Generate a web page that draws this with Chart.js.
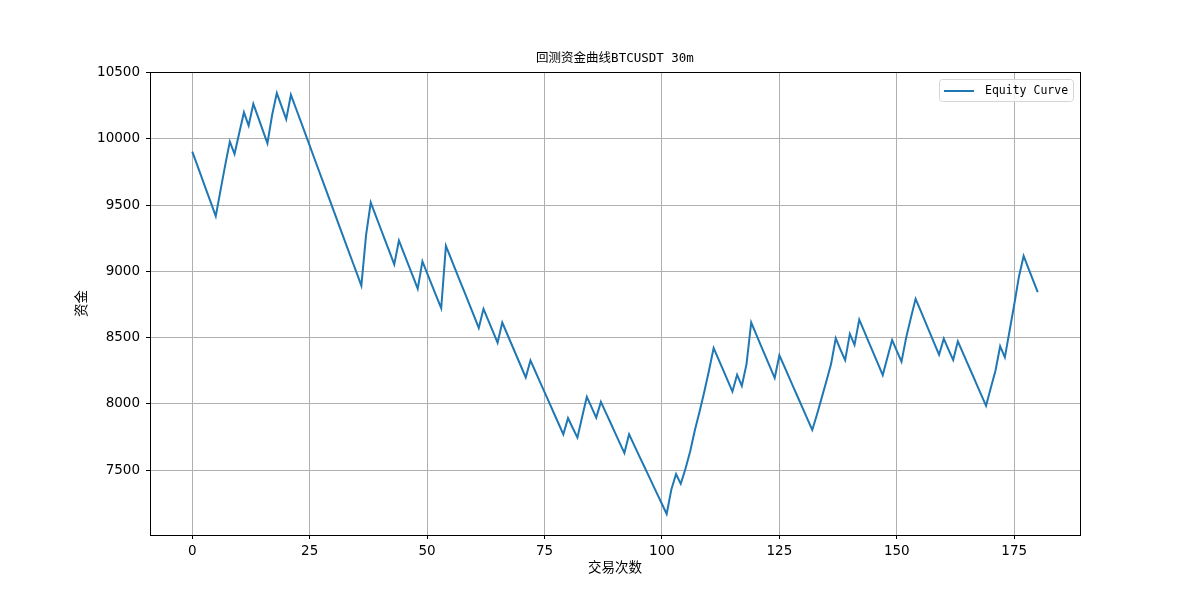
<!DOCTYPE html>
<html>
<head>
<meta charset="utf-8">
<script src="https://cdn.jsdelivr.net/npm/chart.js@4"></script>
<style>
  html, body { margin: 0; padding: 0; background: #fff; }
  #wrap { width: 1200px; height: 600px; }
</style>
</head>
<body>
<div id="wrap"><canvas id="c" width="1200" height="600"></canvas></div>
<script>
// 资金曲线 (equity after each trade)
const equity = [
  9904, 9808, 9710, 9612, 9515, 9417, 9610, 9800, 9980, 9886,
  10045, 10200, 10101, 10265, 10166, 10066, 9967, 10180, 10346, 10248,
  10149, 10333, 10237, 10141, 10045, 9949, 9852, 9756, 9660, 9564,
  9468, 9372, 9276, 9180, 9084, 8988, 8892, 9273, 9520, 9427,
  9333, 9240, 9147, 9053, 9233, 9142, 9051, 8960, 8869, 9076,
  8987, 8899, 8810, 8722, 9192, 9104, 9015, 8927, 8839, 8750,
  8662, 8573, 8717, 8632, 8547, 8462, 8614, 8531, 8448, 8365,
  8282, 8199, 8328, 8248, 8168, 8089, 8009, 7929, 7850, 7770,
  7892, 7818, 7745, 7900, 8053, 7975, 7896, 8015, 7938, 7861,
  7783, 7706, 7629, 7770, 7694, 7619, 7544, 7469, 7394, 7319,
  7244, 7169, 7354, 7470, 7396, 7510, 7640, 7800, 7940, 8090,
  8250, 8422, 8340, 8258, 8175, 8093, 8220, 8136, 8300, 8614,
  8530, 8446, 8362, 8279, 8195, 8366, 8286, 8205, 8125, 8044,
  7964, 7883, 7803, 7920, 8045, 8170, 8300, 8495, 8410, 8330,
  8528, 8445, 8636, 8552, 8468, 8385, 8301, 8217, 8350, 8482,
  8400, 8318, 8502, 8650, 8793, 8709, 8624, 8540, 8455, 8371,
  8492, 8410, 8331, 8472, 8391, 8310, 8229, 8147, 8066, 7985,
  8120, 8250, 8435, 8351, 8550, 8750, 8960, 9116, 9025, 8934,
  8843
];
const xTicks = [0, 25, 50, 75, 100, 125, 150, 175];
const yTicks = [7500, 8000, 8500, 9000, 9500, 10000, 10500];

const points = equity.map((v, i) => ({ x: i, y: v }));

const tickFont = { family: 'DejaVu Sans', size: 13.5 };
const cjkFont = { family: '"DejaVu Sans Mono", "Noto Sans CJK SC"', size: 13.5 };

// matplotlib-style box around the plot + legend in the upper right
const framePlugin = {
  id: 'frame',
  afterDraw(chart) {
    const { ctx, chartArea: a } = chart;
    ctx.save();
    ctx.strokeStyle = '#000';
    ctx.lineWidth = 1;
    ctx.strokeRect(Math.round(a.left) + 0.5, Math.round(a.top) + 0.5,
      Math.round(a.right - a.left), Math.round(a.bottom - a.top));

    // legend
    const ds = chart.data.datasets[0];
    const bx = 939.5, by = 79.5, bw = 134, bh = 22, r = 3;
    ctx.beginPath();
    ctx.moveTo(bx + r, by);
    ctx.arcTo(bx + bw, by, bx + bw, by + bh, r);
    ctx.arcTo(bx + bw, by + bh, bx, by + bh, r);
    ctx.arcTo(bx, by + bh, bx, by, r);
    ctx.arcTo(bx, by, bx + bw, by, r);
    ctx.closePath();
    ctx.fillStyle = 'rgba(255,255,255,0.8)';
    ctx.fill();
    ctx.strokeStyle = '#d6d6d6';
    ctx.stroke();

    ctx.beginPath();
    ctx.moveTo(944, 91);
    ctx.lineTo(974, 91);
    ctx.strokeStyle = ds.borderColor;
    ctx.lineWidth = 2;
    ctx.stroke();

    ctx.fillStyle = '#000';
    ctx.font = '11.5px "DejaVu Sans Mono"';
    ctx.textBaseline = 'middle';
    ctx.fillText(ds.label, 985, 91);
    ctx.restore();
  }
};

new Chart(document.getElementById('c'), {
  type: 'line',
  data: {
    datasets: [{
      label: 'Equity Curve',
      data: points,
      borderColor: '#1f77b4',
      borderWidth: 2,
      pointRadius: 0,
      tension: 0,
      fill: false
    }]
  },
  options: {
    responsive: false,
    animation: false,
    layout: { padding: { left: 72, right: 120, top: 0, bottom: 0 } },
    scales: {
      x: {
        type: 'linear',
        min: -9,
        max: 189,
        afterBuildTicks: s => { s.ticks = xTicks.map(v => ({ value: v })); },
        afterFit: s => { s.height = 65; },
        ticks: { color: '#000', font: tickFont, padding: 4, maxRotation: 0 },
        grid: { color: '#b0b0b0', lineWidth: 1, tickColor: '#000', tickLength: 4, tickWidth: 1 },
        border: { display: false },
        title: { display: true, text: '交易次数', color: '#000', font: cjkFont, padding: { top: 0, bottom: 23 } }
      },
      y: {
        type: 'linear',
        min: 7010,
        max: 10505,
        afterBuildTicks: s => { s.ticks = yTicks.map(v => ({ value: v })); },
        afterFit: s => { s.width = 78; },
        ticks: { color: '#000', font: tickFont, padding: 6, callback: v => String(v) },
        grid: { color: '#b0b0b0', lineWidth: 1, tickColor: '#000', tickLength: 4, tickWidth: 1 },
        border: { display: false },
        title: { display: true, text: '资金', color: '#000', font: cjkFont, padding: { top: 2, bottom: 0 } }
      }
    },
    plugins: {
      legend: { display: false },
      tooltip: { enabled: false },
      title: {
        display: true,
        fullSize: false,
        text: '回测资金曲线BTCUSDT 30m',
        color: '#000',
        font: { family: '"DejaVu Sans Mono", "Noto Sans CJK SC"', size: 12.5, weight: 'normal', lineHeight: 1.2 },
        padding: { top: 51, bottom: 6 }
      }
    }
  },
  plugins: [framePlugin]
});
</script>
</body>
</html>
